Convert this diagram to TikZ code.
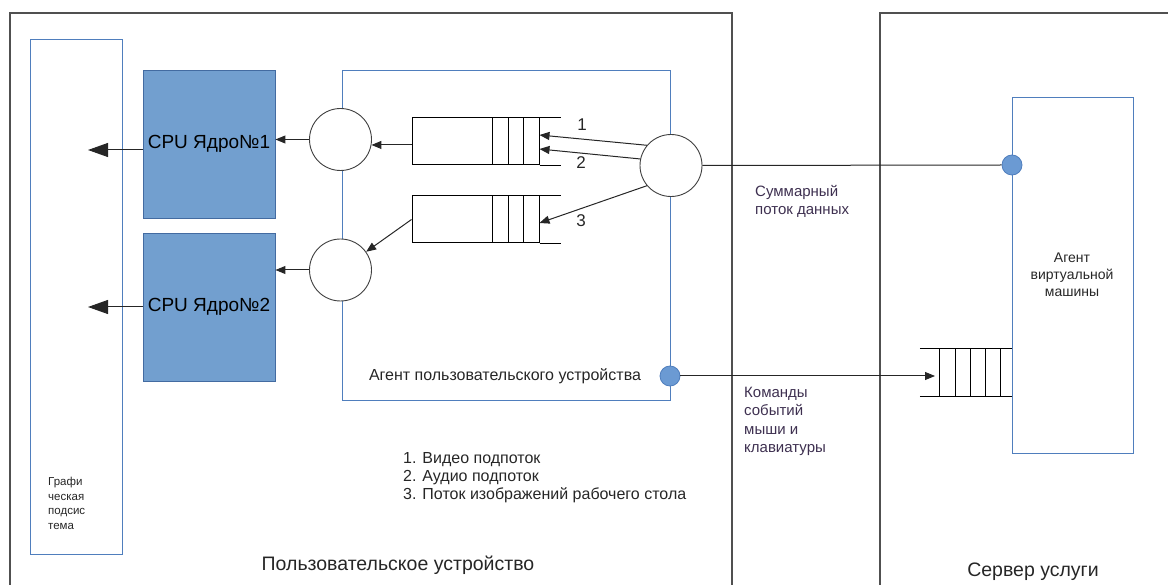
\documentclass[tikz,border=0pt]{standalone}
\usepackage{fontspec}
\setmainfont{Liberation Sans}
\usetikzlibrary{arrows.meta}
\definecolor{frame}{HTML}{505050}
\definecolor{bline}{HTML}{4F7EBD}
\definecolor{cpufill}{HTML}{729FCF}
\definecolor{dotfill}{HTML}{6B9AD3}
\definecolor{note}{HTML}{3E3050}
\newcommand{\fs}[2]{\fontsize{#1}{#2}\selectfont}

\begin{document}
\begin{tikzpicture}[x=1pt,y=-1pt,
  frameline/.style={draw=frame, line width=1.3pt},
  box/.style={rectangle, draw=bline, line width=0.9pt, inner sep=0pt},
  cpu/.style={rectangle, draw=bline!85!black, fill=cpufill, line width=0.9pt,
    inner sep=0pt, minimum width=132pt, minimum height=148pt, font=\fs{19}{22}},
  mux/.style={circle, draw=black!75, fill=white, line width=0.9pt,
    minimum size=62pt, inner sep=0pt},
  port/.style={circle, draw=bline, fill=dotfill, line width=0.8pt,
    minimum size=20pt, inner sep=0pt},
  queue/.style={rectangle, draw=black, line width=1pt, minimum width=127pt,
    minimum height=47pt, inner sep=0pt},
  slot/.style={draw=black, line width=1pt},
  link/.style={draw=black!85, line width=1pt},
  arr/.style={link, -{Triangle[length=10pt,width=8pt]}},
  bigarr/.style={link, -{Triangle[length=20pt,width=14pt]}},
  txt/.style={inner sep=0pt, text=black!85},
  notetxt/.style={inner sep=0pt, text=note, align=left, anchor=west}
]
\useasboundingbox (0,0) rectangle (1168,585);

% device and server frames (open at the bottom)
\draw[frameline] (10,585) -- (10,13) -- (732,13) -- (732,585);
\draw[frameline] (880,585) -- (880,13) -- (1168,13);

% graphics subsystem
\node[box, minimum width=92pt, minimum height=515pt] (gs) at (76,296.5) {};
\node[txt, anchor=west, align=left, font=\fs{11.5}{14.5}] (gstxt) at (48,503.5)
  {Графи\\ческая\\подсис\\тема};

% CPU cores
\node[cpu] (cpu1) at (209,144) {CPU Ядро№1};
\node[cpu] (cpu2) at (209,307) {CPU Ядро№2};
\coordinate (gs1) at (88,150);
\coordinate (gs2) at (88,307);
\draw[bigarr] ([yshift=-6pt]cpu1.west) -- (gs1);
\draw[bigarr] (cpu2.west) -- (gs2);

% user device agent
\node[box, minimum width=328pt, minimum height=330pt] (ua) at (506,235) {};
\node[txt, font=\fs{16}{18}] (uatxt) at (505,376) {Агент пользовательского устройства};

% virtual machine agent
\node[box, minimum width=121pt, minimum height=356pt] (vm) at (1072.5,275) {};
\node[txt, align=center, font=\fs{14}{17}] (vmtxt) at (1072,275)
  {Агент\\виртуальной\\машины};

% client queues
\node[queue] (q1) at (475.5,141.5) {};
\node[queue] (q2) at (475.5,219.5) {};
\foreach \q in {q1,q2}{
  \foreach \d in {81,97,112}
    \draw[slot] ([xshift=\d pt]\q.north west) -- ([xshift=\d pt]\q.south west);
  \draw[slot] (\q.north east) -- ++(21,0);
  \draw[slot] (\q.south east) -- ++(21,0);
}

% server input queue
\node[inner sep=0pt, minimum width=92pt, minimum height=47pt] (rq) at (966,372.5) {};
\draw[slot] (rq.north west) -- (rq.north east);
\draw[slot] (rq.south west) -- (rq.south east);
\foreach \d in {20,36,51,66,81}
  \draw[slot] ([xshift=\d pt]rq.north west) -- ([xshift=\d pt]rq.south west);
\coordinate (rqin) at (935,376);

% demultiplexers and ports
\node[mux] (c1) at (340.5,139.5) {};
\node[mux] (c2) at (340.5,270) {};
\node[mux] (c3) at (671,165.5) {};
\node[port] (vmport) at (1012,165) {};
\node[port] (uaport) at (670,376) {};

% data paths
\draw[arr] (c1.west) -- (c1.west -| cpu1.east);
\draw[arr] (c2.west) -- (c2.west -| cpu2.east);
\draw[arr] (q1.west |- c1.-10) -- (c1.-10);
\draw[arr] (q2.west) -- (c2);
\draw[arr] (c3.140) -- ([yshift=6.5pt]q1.east);
\draw[arr] (c3.168) -- ([yshift=-7.5pt]q1.east);
\draw[arr] (c3.220) -- ([yshift=-3.5pt]q2.east);
\draw[link] (c3.east) -- (vmport.west);
\draw[arr] (uaport.east) -- (rqin);

% stream numbers
\node[txt, font=\fs{17}{20}] (n1) at (582,125) {1};
\node[txt, font=\fs{17}{20}] (n2) at (581,163) {2};
\node[txt, font=\fs{17}{20}] (n3) at (581,221) {3};

% notes
\node[notetxt, font=\fs{15}{18}] (sumtxt) at (755,201) {Суммарный\\поток данных};
\node[notetxt, font=\fs{15}{18.5}] (cmdtxt) at (744,421.5)
  {Команды\\событий\\мыши и\\клавиатуры};
\node[txt, align=left, anchor=west, font=\fs{16}{18}] (legend) at (403,478)
  {1. Видео подпоток\\2. Аудио подпоток\\3. Поток изображений рабочего стола};

% frame captions
\node[txt, font=\fs{19.5}{22}] (devtxt) at (398,565) {Пользовательское устройство};
\node[txt, font=\fs{19.5}{22}] (srvtxt) at (1033,572) {Сервер услуги};
\end{tikzpicture}
\end{document}
